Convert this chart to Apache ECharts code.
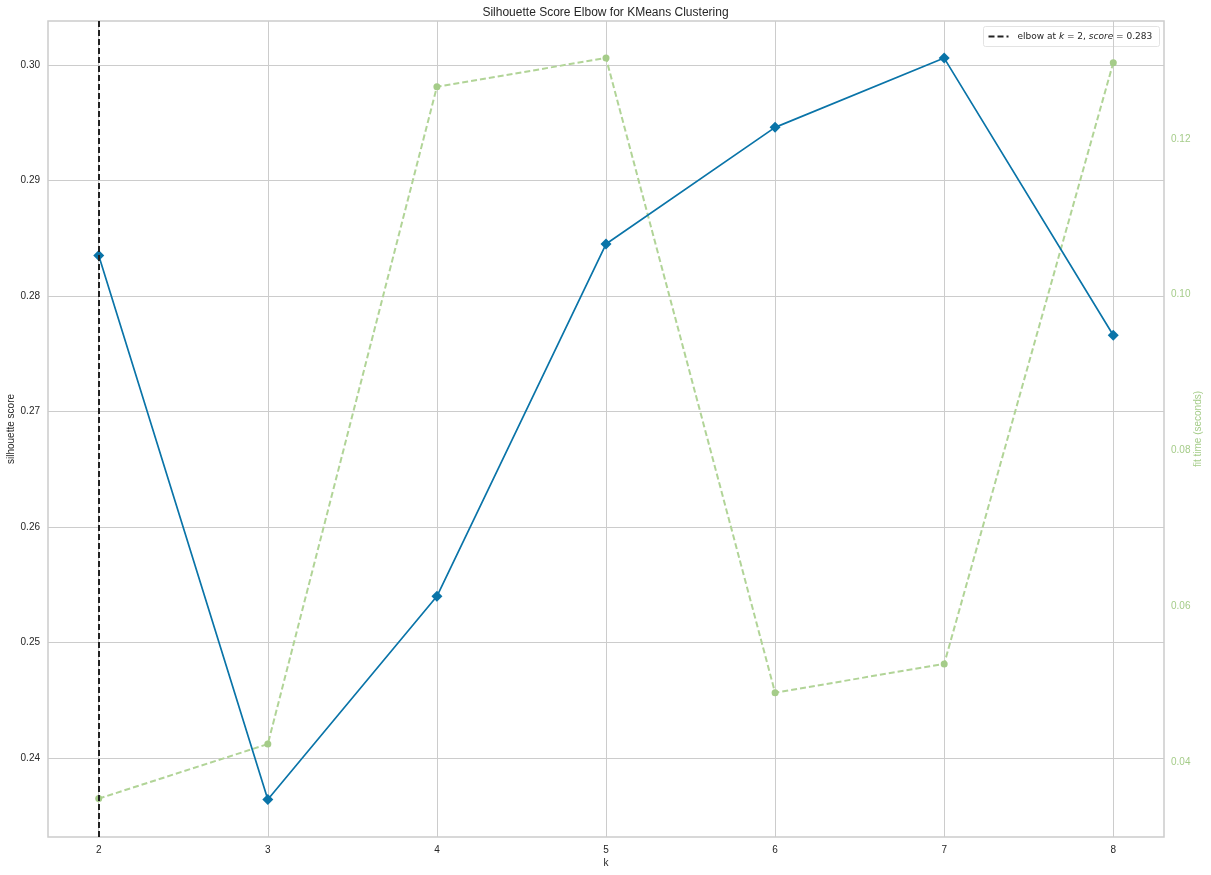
<!DOCTYPE html>
<html><head><meta charset="utf-8">
<script src="https://cdn.jsdelivr.net/npm/echarts@6/dist/echarts.min.js"></script>
<style>html,body{margin:0;padding:0;background:#fff}#c{width:1211px;height:875px}</style>
</head><body><div id="c"></div>
<script>
const kValues = [2, 3, 4, 5, 6, 7, 8];
const silhouetteScores = [0.2835, 0.2364, 0.2540, 0.2845, 0.2946, 0.3006, 0.2766];
const fitTimes = [0.0353, 0.0423, 0.1267, 0.1304, 0.0489, 0.0526, 0.1298];
const leftTicks = [0.24, 0.25, 0.26, 0.27, 0.28, 0.29, 0.30];
const rightTicks = [0.04, 0.06, 0.08, 0.10, 0.12];
const elbowK = 2;
const elbowScore = 0.283;

const FONT = '"Liberation Sans", Arial, sans-serif';
const gridColor = '#cccccc';
const blue = '#0a74a8';
const green = '#a5cc89';
const greenLine = '#b1d497';

const chart = echarts.init(document.getElementById('c'), null, {renderer: 'canvas'});
chart.setOption({
  animation: false,
  backgroundColor: '#ffffff',
  textStyle: {fontFamily: FONT},
  title: {
    text: 'Silhouette Score Elbow for KMeans Clustering',
    left: 'center', top: 2,
    textStyle: {fontSize: 12, fontWeight: 'normal', color: '#262626', fontFamily: FONT}
  },
  grid: {left: 48, top: 21, right: 47, bottom: 38, containLabel: false, outerBoundsMode: 'none',
         show: true, borderColor: gridColor, borderWidth: 1.5},
  xAxis: {
    type: 'value', min: 1.7, max: 8.3,
    name: 'k', nameLocation: 'middle', nameGap: 21, nameMoveOverlap: false,
    nameTextStyle: {fontSize: 10, color: '#262626'},
    axisLine: {show: false},
    axisTick: {show: false, customValues: kValues},
    axisLabel: {customValues: kValues, fontSize: 10, color: '#262626', margin: 8, formatter: v => String(v)},
    splitLine: {show: true, lineStyle: {color: gridColor, width: 1}}
  },
  yAxis: [{
    type: 'value', min: 0.23316, max: 0.30381, position: 'left',
    name: 'silhouette score', nameLocation: 'middle', nameGap: 32, nameRotate: 90, nameMoveOverlap: false,
    nameTextStyle: {fontSize: 10, color: '#262626'},
    axisLine: {show: false},
    axisTick: {show: false, customValues: leftTicks},
    axisLabel: {customValues: leftTicks, fontSize: 10, color: '#262626', margin: 8, formatter: v => v.toFixed(2)},
    splitLine: {show: true, lineStyle: {color: gridColor, width: 1}}
  }, {
    type: 'value', min: 0.03037, max: 0.13515, position: 'right',
    name: 'fit time (seconds)', nameLocation: 'middle', nameGap: 29, nameRotate: 90, nameMoveOverlap: false,
    nameTextStyle: {fontSize: 10, color: green},
    axisLine: {show: false},
    axisTick: {show: false, customValues: rightTicks},
    axisLabel: {customValues: rightTicks, fontSize: 10, color: green, margin: 7, formatter: v => v.toFixed(2)},
    splitLine: {show: false}
  }],
  series: [{
    type: 'line', name: 'fit time', yAxisIndex: 1, z: 2,
    data: kValues.map((k, i) => [k, fitTimes[i]]),
    symbol: 'circle', symbolSize: 7,
    lineStyle: {color: greenLine, width: 2, type: [6, 3]},
    itemStyle: {color: green}
  }, {
    type: 'line', name: 'silhouette', yAxisIndex: 0, z: 3,
    data: kValues.map((k, i) => [k, silhouetteScores[i]]),
    symbol: 'diamond', symbolSize: 11,
    lineStyle: {color: blue, width: 1.7},
    itemStyle: {color: blue},
    markLine: {
      silent: true, symbol: 'none', z: 4,
      label: {show: false},
      lineStyle: {color: '#222222', width: 2, type: [6, 3]},
      data: [{xAxis: elbowK}]
    }
  }],
  graphic: [{
    type: 'group', left: 983, top: 26,
    children: [{
      type: 'rect', shape: {x: 0, y: 0, width: 176, height: 20, r: 2},
      style: {fill: 'rgba(255,255,255,0.85)', stroke: '#e3e3e3', lineWidth: 1}
    }, {
      type: 'line', shape: {x1: 5, y1: 10, x2: 25, y2: 10},
      style: {stroke: '#222222', lineWidth: 2, lineDash: [6, 3]}
    }, {
      type: 'text', x: 34, y: 10,
      style: {
        text: '{n|elbow at }{i|k}{n| = ' + elbowK + ', }{i|score}{n| = ' + elbowScore.toFixed(3) + '}',
        verticalAlign: 'middle',
        rich: {
          n: {fontSize: 9, fill: '#262626', fontFamily: '"DejaVu Sans", sans-serif'},
          i: {fontSize: 9, fill: '#262626', fontStyle: 'italic', fontFamily: '"DejaVu Sans", sans-serif'}
        }
      }
    }]
  }]
});
</script></body></html>
